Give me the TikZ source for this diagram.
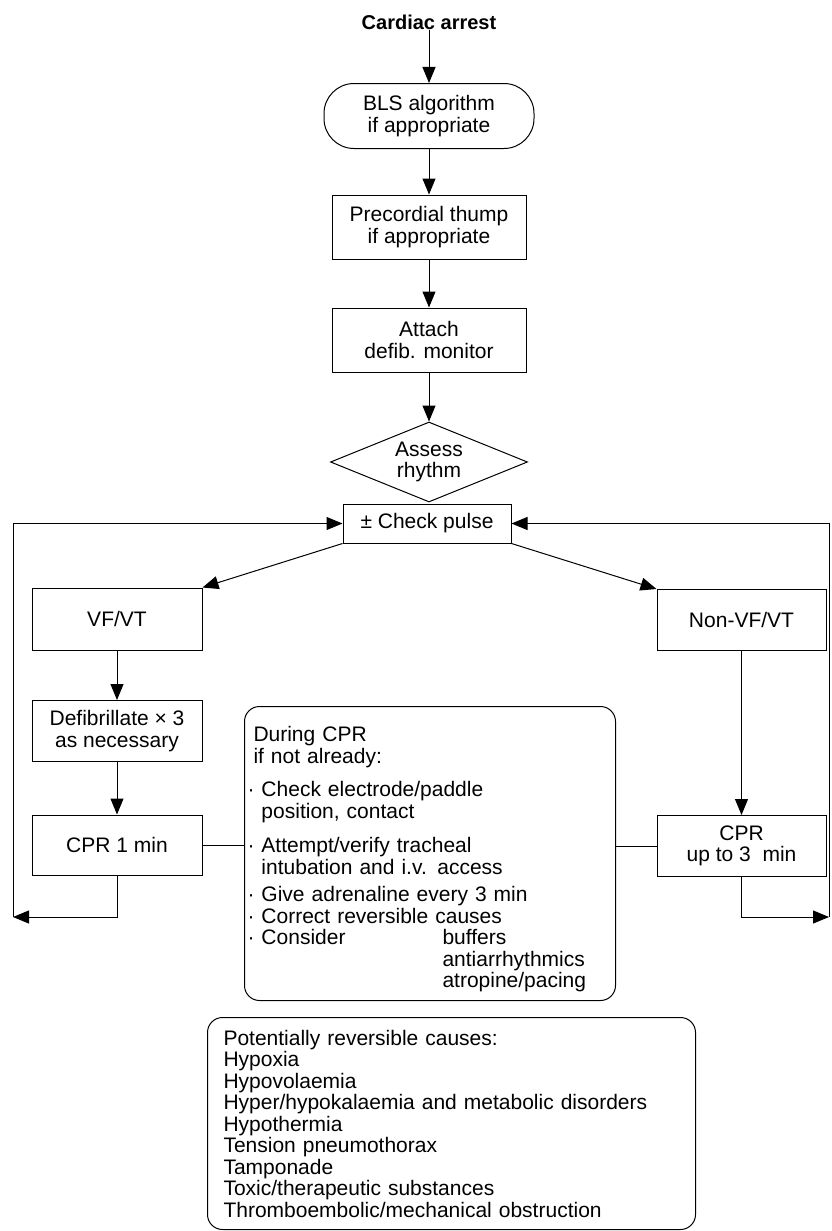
\documentclass[tikz,border=0pt]{standalone}
\usepackage{fontspec}
\setmainfont{Liberation Sans}
\usetikzlibrary{arrows.meta, shapes.geometric}

\tikzset{
  txt/.style={font=\fontsize{21}{21.5}\selectfont, align=center, inner sep=0pt},
  box/.style={txt, draw, line width=1pt},
  flow/.style={line width=1pt, -{Triangle[length=16pt, width=13pt]}},
  link/.style={line width=1pt},
}

\begin{document}
\begin{tikzpicture}[x=1pt, y=-1pt]
  \useasboundingbox (0,0) rectangle (831,1231);

  % main column
  \node[txt, font=\fontsize{20}{21}\selectfont\bfseries] (arrest) at (429,22) {Cardiac arrest};
  \node[box, rounded corners=30pt, minimum width=210pt, minimum height=65pt] (bls) at (429,116) {BLS algorithm\\if appropriate};
  \node[box, minimum width=194pt, minimum height=64pt] (thump) at (429,227) {Precordial thump\\if appropriate};
  \node[box, minimum width=194pt, minimum height=64pt] (attach) at (429,340) {Attach\\defib. monitor};
  \node[box, diamond, aspect=2.46, minimum width=197pt, minimum height=80pt] (rhythm) at (429,462) {Assess\\rhythm};
  \node[box, minimum width=168pt, minimum height=39pt] (pulse) at (427,523.5) {± Check pulse};

  % VF/VT branch
  \node[box, minimum width=170pt, minimum height=62pt] (vf) at (117,619) {VF/VT};
  \node[box, minimum width=170pt, minimum height=61pt] (defib) at (117,731) {Defibrillate × 3\\as necessary};
  \node[box, minimum width=170pt, minimum height=60pt] (cpra) at (117,845) {CPR 1 min};

  % non-VF/VT branch
  \node[box, minimum width=169pt, minimum height=61pt] (nonvf) at (741.5,620) {Non-VF/VT};
  \node[box, minimum width=169pt, minimum height=61pt] (cprb) at (741.5,846) {CPR\\up to 3\ \ min};

  % during CPR
  \node[box, rounded corners=15pt, anchor=north west, align=left, text width=365pt,
        minimum height=294pt, inner xsep=3pt] (during) at (244,706) {%
    \rule{0pt}{27pt}\hspace*{6pt}During CPR\\
    \hspace*{6pt}if not already:\\[12pt]
    · Check electrode/paddle\\
    \hphantom{· }position, contact\\[13pt]
    · Attempt/verify tracheal\\
    \hphantom{· }intubation and i.v. access\\[6pt]
    · Give adrenaline every 3 min\\
    · Correct reversible causes\\
    \makebox[195pt][l]{· Consider}buffers\\
    \hspace*{195pt}antiarrhythmics\\
    \hspace*{195pt}atropine/pacing};

  % reversible causes
  \node[box, rounded corners=15pt, anchor=north west, align=left, text width=456pt,
        minimum height=212pt, inner xsep=16pt] (causes) at (207,1017) {%
    Potentially reversible causes:\\
    Hypoxia\\
    Hypovolaemia\\
    Hyper/hypokalaemia and metabolic disorders\\
    Hypothermia\\
    Tension pneumothorax\\
    Tamponade\\
    Toxic/therapeutic substances\\
    Thromboembolic/mechanical obstruction};

  \coordinate (lc) at (13,917);
  \coordinate (rc) at (829,917);

  \draw[flow] (arrest) -- (bls);
  \draw[flow] (bls) -- (thump);
  \draw[flow] (thump) -- (attach);
  \draw[flow] (attach) -- (rhythm);
  \draw[flow] (pulse.south west) -- (vf.north east);
  \draw[flow] (pulse.south east) -- (nonvf.north west);
  \draw[flow] (vf) -- (defib);
  \draw[flow] (defib) -- (cpra);
  \draw[flow] (nonvf) -- (cprb);
  \draw[link] (cpra.east) -- (cpra.east -| during.west);
  \draw[link] (cprb.west -| during.east) -- (cprb.west);

  % loops back
  \draw[flow] (cpra.south) |- (lc);
  \draw[flow] (lc) |- (pulse.west);
  \draw[flow] (cprb.south) |- (rc);
  \draw[flow] (rc) |- (pulse.east);
\end{tikzpicture}
\end{document}
